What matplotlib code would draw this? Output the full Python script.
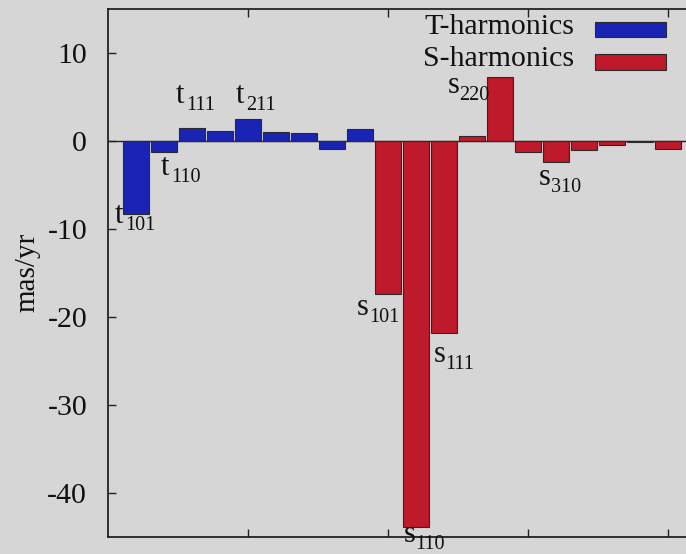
import matplotlib
matplotlib.use("Agg")
import matplotlib.pyplot as plt
from matplotlib.patches import Rectangle

plt.rcParams['font.family'] = ['Liberation Serif', 'DejaVu Serif']
plt.rcParams['axes.unicode_minus'] = False

# Toroidal (T) and spheroidal (S) harmonic coefficients, mas/yr
t_values = [-8.3, -1.3, 1.45, 1.15, 2.45, 1.0, 0.87, -0.87, 1.33]
s_values = [-17.4, -43.9, -21.8, 0.57, 7.3, -1.3, -2.4, -1.0, -0.45, -0.12, -0.87]

# Named coefficients: (letter, index, label x, label baseline y)
t_labels = [('t', '101', 0.25, -9.32),
            ('t', '110', 1.89, -3.86),
            ('t', '111', 2.43, 4.32),
            ('t', '211', 4.57, 4.32)]
s_labels = [('s', '101', 8.89, -19.77),
            ('s', '110', 10.55, -45.57),
            ('s', '111', 11.62, -25.11),
            ('s', '220', 12.13, 5.45),
            ('s', '310', 15.38, -4.96)]

series_names = ['T-harmonics', 'S-harmonics']

blue = '#1a24b4'
red = '#be1a2b'
bg = '#d6d6d6'
edge = '#2a2a2a'
ink = '#111111'

fig = plt.figure(figsize=(6.86, 5.54), dpi=100, facecolor=bg)
W, H = 686, 554
ax = fig.add_axes([108 / W, (H - 537) / H, (W - 108) / W, (537 - 9) / H])
ax.set_facecolor(bg)

t_x = list(range(1, len(t_values) + 1))
s_x = list(range(len(t_values) + 1, len(t_values) + len(s_values) + 1))

ax.bar(t_x, t_values, width=0.95, color=blue, edgecolor=edge, linewidth=0.8)
ax.bar(s_x, s_values, width=0.95, color=red, edgecolor=edge, linewidth=0.8)
ax.axhline(0, color='#222222', linewidth=1.0, zorder=0.5)

ax.set_xlim(0, (W - 108) / 28)
ax.set_ylim(-45, 15)

ax.set_xticks([5, 10, 15, 20])
ax.set_xticklabels([])
ax.set_yticks([-40, -30, -20, -10, 0, 10])
ax.tick_params(axis='both', direction='in', length=6, width=1.0, color='#222222',
               labelsize=21.5, labelcolor=ink, top=True, bottom=True, left=True,
               right=False)
ax.tick_params(axis='y', pad=15)
for side in ['left', 'top', 'bottom']:
    ax.spines[side].set_color('#222222')
    ax.spines[side].set_linewidth(1.3)
ax.spines['right'].set_visible(False)

fig.text(27 / W, 1 - 272 / H, 'mas/yr', rotation=90, fontsize=21, color=ink,
         ha='center', va='center')

# Coefficient names: letter with a smaller, lowered index
for base, sub, lx, ly in t_labels + s_labels:
    ax.text(lx, ly, base, fontsize=22, ha='left', va='baseline',
            color=ink, clip_on=False)
    dx = 7.3 if base == 't' else 8.6
    ax.annotate(sub, xy=(lx, ly), xytext=(dx, -5.0), textcoords='offset points',
                fontsize=14.5, ha='left', va='baseline', color=ink,
                annotation_clip=False)

# Legend: names on the left, colour swatches on the right
for name, colour, base_y, top_y, bot_y in [(series_names[0], blue, 34, 22, 37),
                                             (series_names[1], red, 66, 54, 70)]:
    fig.text(574 / W, 1 - base_y / H, name, fontsize=21.5, color=ink,
             ha='right', va='baseline')
    fig.patches.append(Rectangle((595 / W, 1 - bot_y / H), 71 / W, (bot_y - top_y) / H,
                                 transform=fig.transFigure, facecolor=colour,
                                 edgecolor=edge, linewidth=0.8))

fig.savefig('out.png', dpi=100, facecolor=bg)
